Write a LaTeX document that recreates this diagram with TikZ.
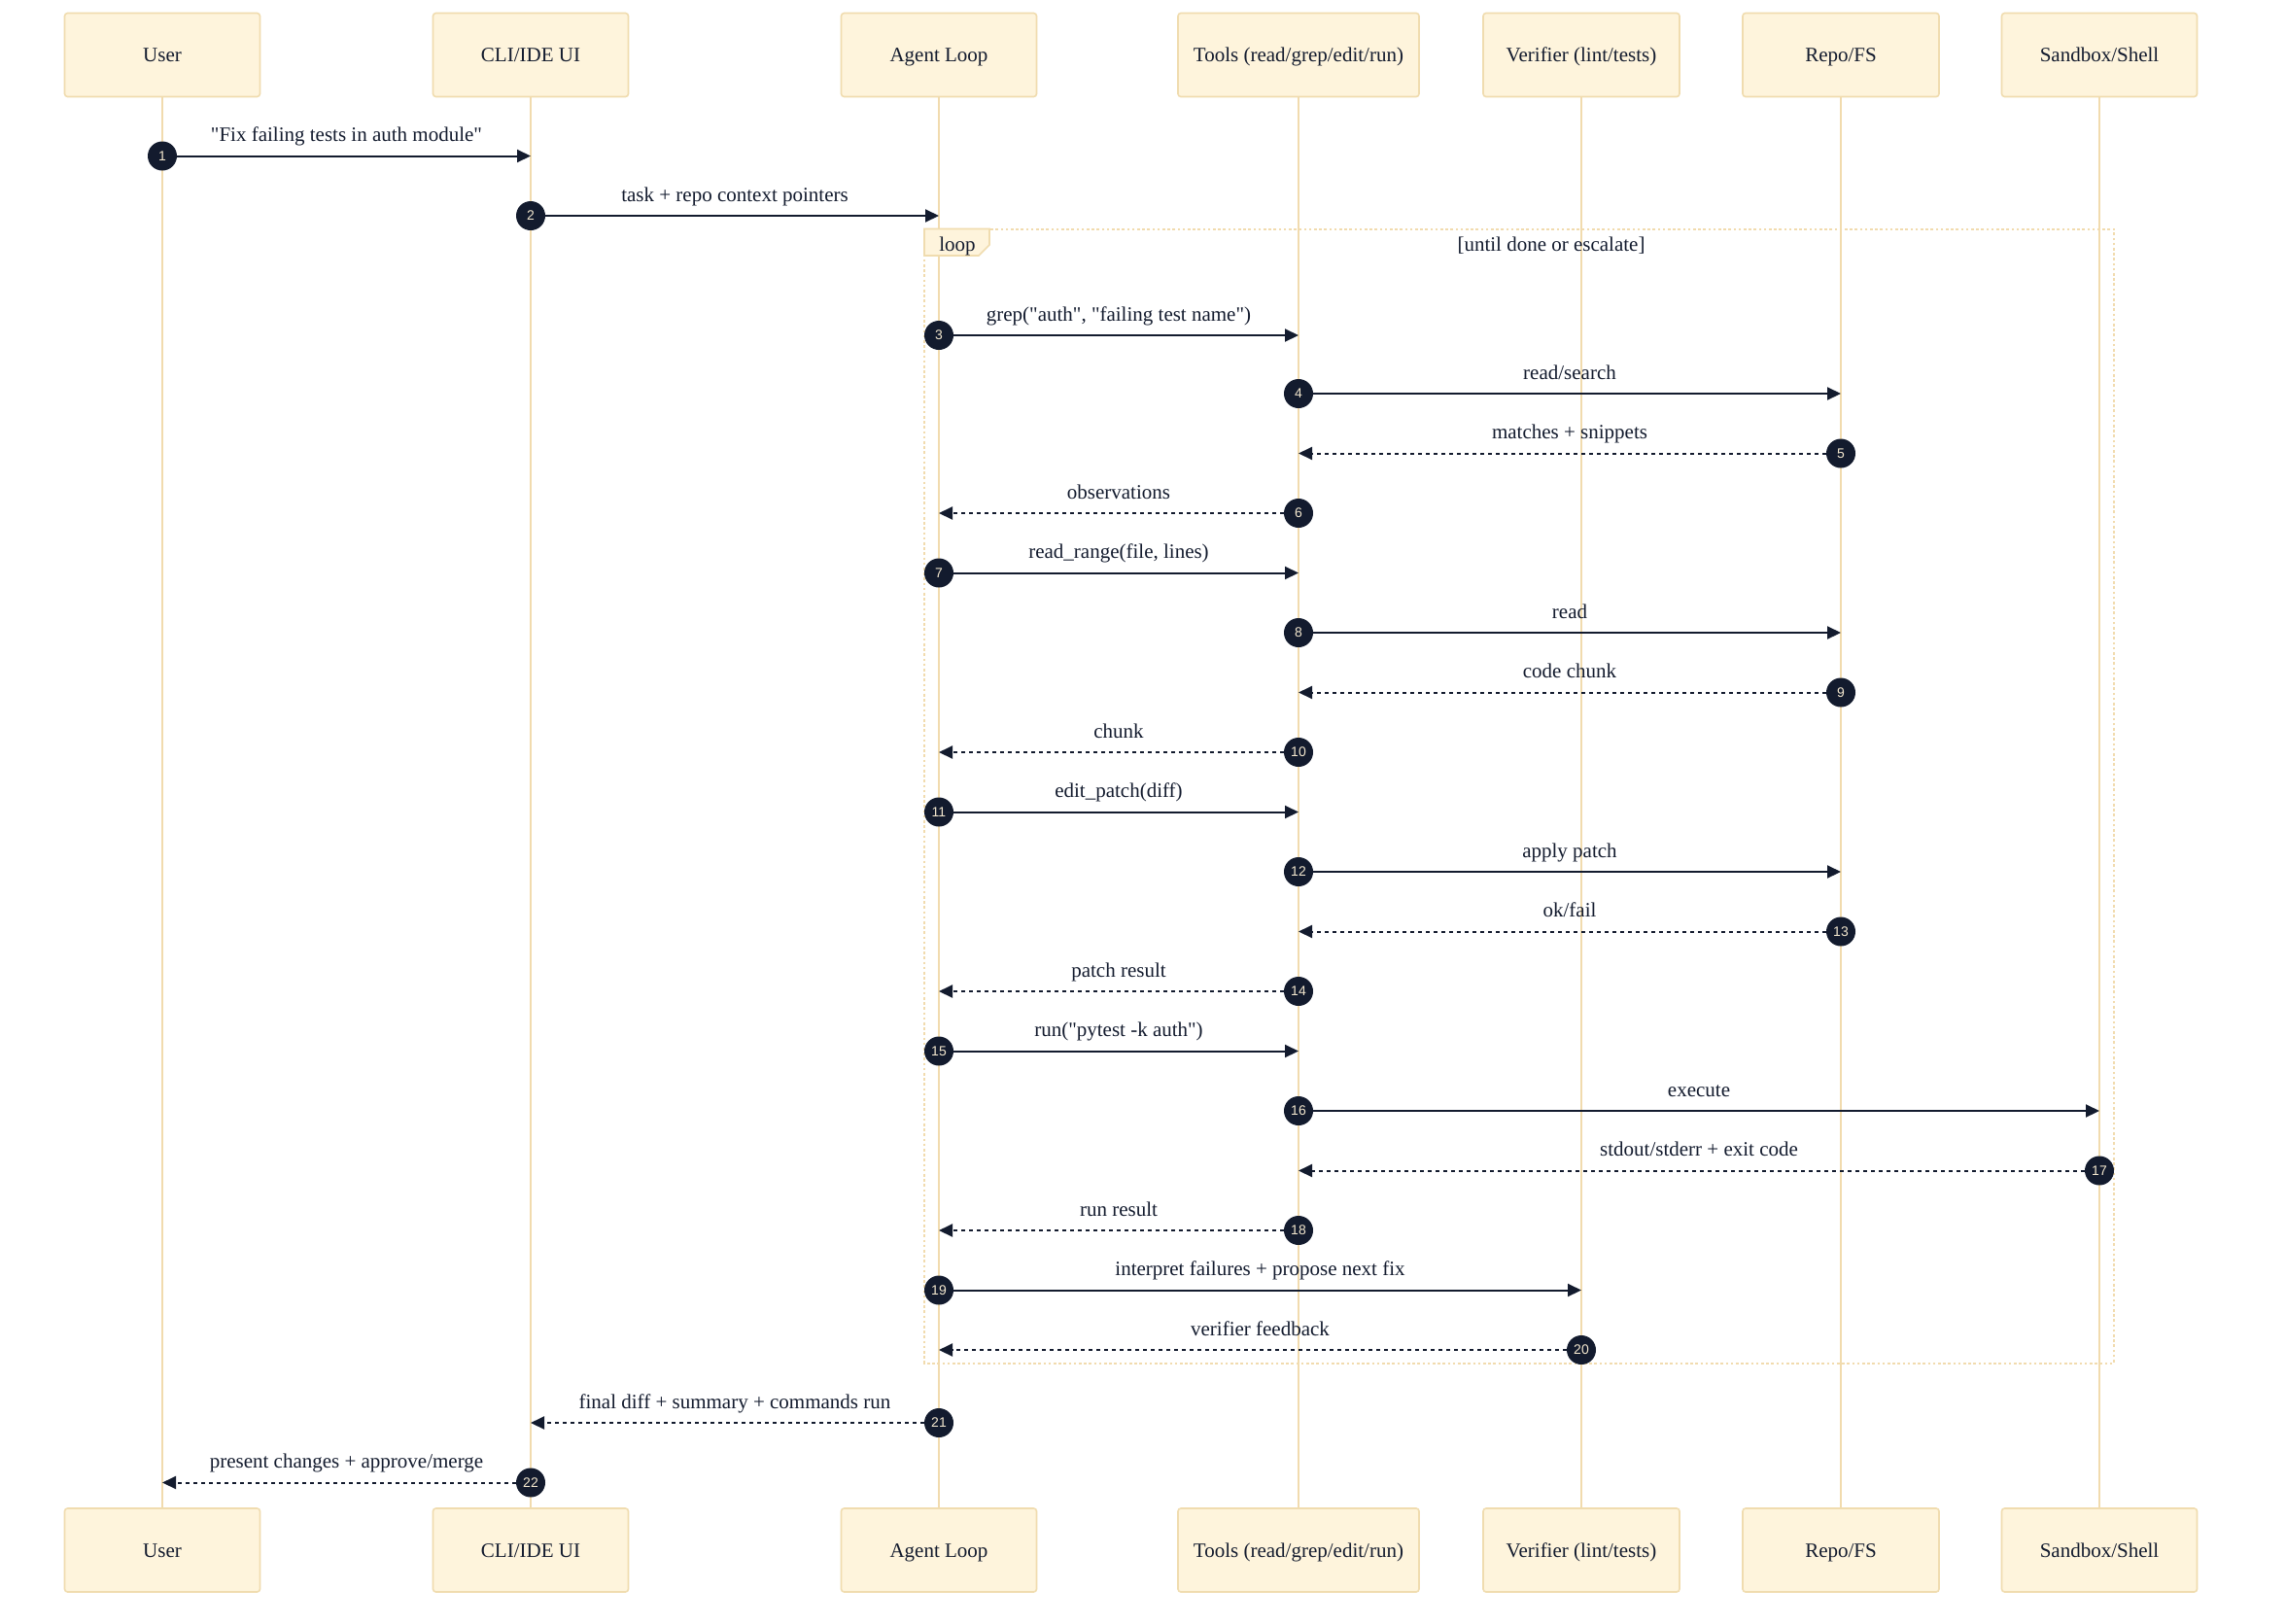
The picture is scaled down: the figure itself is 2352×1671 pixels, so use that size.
\documentclass[tikz,border=0pt]{standalone}
\usepackage{fontspec}
\setmainfont{Liberation Serif}
\newfontfamily\numfont{Liberation Sans}
\newfontfamily\qserif{Liberation Serif}
\usetikzlibrary{arrows.meta,calc}
\definecolor{actfill}{HTML}{FEF4DC}
\definecolor{actdraw}{HTML}{F0DCAF}
\definecolor{lifec}{HTML}{F1DBAE}
\definecolor{ink}{HTML}{131B2E}
\definecolor{numtxt}{HTML}{F3E7CE}
\newcommand\dq{{\qserif"}}
\tikzset{
  actor/.style={draw=actdraw, fill=actfill, line width=0.8pt, rounded corners=1.5pt,
    minimum height=43pt, inner sep=0pt, text height=8.5pt, text depth=1.2pt,
    font=\fontsize{10.5pt}{12pt}\selectfont, text=ink},
  life/.style={draw=lifec, line width=1pt},
  seqnum/.style={circle, fill=ink, minimum size=15pt, inner sep=0pt,
    font=\numfont\fontsize{7pt}{8pt}\selectfont, text=numtxt},
  solidmsg/.style={draw=ink, line width=1pt, -{Triangle[length=7pt,width=6.5pt]}},
  dashmsg/.style={draw=ink, line width=1pt, dash pattern=on 2pt off 2pt, -{Triangle[length=7pt,width=6.5pt]}},
  msglbl/.style={font=\fontsize{10.5pt}{12pt}\selectfont, text=ink, inner sep=0pt,
    text height=7.5pt, text depth=2.2pt},
  loopline/.style={draw=lifec, line width=1pt, dash pattern=on 1.3pt off 1.3pt},
}
\newcommand\seqmsg[6]{%
  \node[seqnum] (n#1) at (top-#2.center |- 0,#4) {#1};
  \coordinate (e#1) at (top-#3.center |- 0,#4);
  \draw[#6] (n#1) -- (e#1);
  \node[msglbl] (l#1) at ($(n#1.center)!0.5!(e#1)+(0,-20)$) {#5};
}
\newcommand\seqactor[4]{%
  \node[actor, minimum width=#3] (top-#1) at (#2,56.5) {#4};
  \node[actor, minimum width=#3] (bot-#1) at (#2,1595) {#4};
  \draw[life] (top-#1) -- (bot-#1);
}
\begin{document}
\begin{tikzpicture}[x=0.5pt,y=-0.5pt]
\useasboundingbox[fill=white] (0,0) rectangle (2352,1671);
% actors
\seqactor{user}{167}{100.5pt}{User}
\seqactor{cli}{546}{100.5pt}{CLI/IDE UI}
\seqactor{agent}{966}{100.5pt}{Agent Loop}
\seqactor{tools}{1336}{124pt}{Tools (read/grep/edit/run)}
\seqactor{verifier}{1627}{101pt}{Verifier (lint/tests)}
\seqactor{repo}{1894}{101pt}{Repo/FS}
\seqactor{sandbox}{2160}{100.5pt}{Sandbox/Shell}
% loop frame
\draw[loopline] (951,235.5) rectangle (2175,1402.5);
\draw[draw=actdraw, fill=actfill, line width=0.8pt] (951,235.5) -- (1018,235.5) -- (1018,252) -- (1007,263) -- (951,263) -- cycle;
\node[msglbl] (looplbl) at (985,253) {loop};
\node[msglbl] (loopcond) at (1596,253) {[until done or escalate]};
% messages
\seqmsg{1}{user}{cli}{160.5}{\dq Fix failing tests in auth module\dq}{solidmsg}
\seqmsg{2}{cli}{agent}{222}{task + repo context pointers}{solidmsg}
\seqmsg{3}{agent}{tools}{345}{grep(\dq auth\dq, \dq failing test name\dq)}{solidmsg}
\seqmsg{4}{tools}{repo}{405}{read/search}{solidmsg}
\seqmsg{5}{repo}{tools}{466.5}{matches + snippets}{dashmsg}
\seqmsg{6}{tools}{agent}{528}{observations}{dashmsg}
\seqmsg{7}{agent}{tools}{589.5}{read\_range(file, lines)}{solidmsg}
\seqmsg{8}{tools}{repo}{651}{read}{solidmsg}
\seqmsg{9}{repo}{tools}{712.5}{code chunk}{dashmsg}
\seqmsg{10}{tools}{agent}{774}{chunk}{dashmsg}
\seqmsg{11}{agent}{tools}{835.5}{edit\_patch(diff)}{solidmsg}
\seqmsg{12}{tools}{repo}{897}{apply patch}{solidmsg}
\seqmsg{13}{repo}{tools}{958.5}{ok/fail}{dashmsg}
\seqmsg{14}{tools}{agent}{1020}{patch result}{dashmsg}
\seqmsg{15}{agent}{tools}{1081.5}{run(\dq pytest -k auth\dq)}{solidmsg}
\seqmsg{16}{tools}{sandbox}{1143}{execute}{solidmsg}
\seqmsg{17}{sandbox}{tools}{1204.5}{stdout/stderr + exit code}{dashmsg}
\seqmsg{18}{tools}{agent}{1266}{run result}{dashmsg}
\seqmsg{19}{agent}{verifier}{1327.5}{interpret failures + propose next fix}{solidmsg}
\seqmsg{20}{verifier}{agent}{1389}{verifier feedback}{dashmsg}
\seqmsg{21}{agent}{cli}{1464}{final diff + summary + commands run}{dashmsg}
\seqmsg{22}{cli}{user}{1525.5}{present changes + approve/merge}{dashmsg}
\end{tikzpicture}
\end{document}
